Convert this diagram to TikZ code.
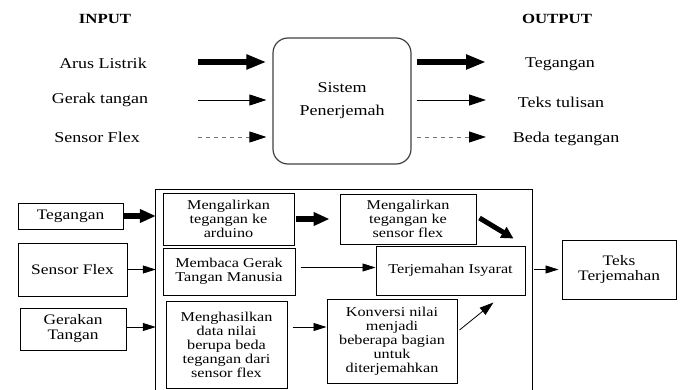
\documentclass[tikz,border=0pt]{standalone}
\usepackage{fontspec}
\setmainfont{Liberation Serif}[FakeStretch=1.2]
\usetikzlibrary{arrows.meta,calc}
\begin{document}
\begin{tikzpicture}[x=1pt,y=-1pt,
	lbl/.style={font=\fontsize{15}{23}\selectfont},
	head/.style={font=\fontsize{14}{16}\selectfont\bfseries},
	sysbox/.style={draw=black!75,line width=1.2pt,rounded corners=15pt,align=center,
		minimum width=138pt,minimum height=126pt,inner sep=0pt,lbl},
	box/.style={draw,line width=1pt,align=center,inner sep=0pt,font=\fontsize{14.5}{15}\selectfont},
	sub/.style={box,font=\fontsize{13.5}{14}\selectfont},
	heavy/.style={line width=6pt,-{Triangle[length=20pt,width=14pt]}},
	plain/.style={line width=0.8pt,-{Triangle[length=17pt,width=11pt]}},
	faint/.style={line width=0.8pt,draw=black!55,dash pattern=on 4pt off 4pt,
		-{Triangle[length=17pt,width=11pt,color=black]}},
	heavyb/.style={line width=6pt,-{Triangle[length=16pt,width=13pt]}},
	thinb/.style={line width=0.8pt,-{Triangle[length=13pt,width=8pt]}}]
	\useasboundingbox (0,0) rectangle (682,390);
	% top half: input -> system -> output
	\node[head] (inp) at (105,19) {INPUT};
	\node[head] (outp) at (557,19) {OUTPUT};
	\node[sysbox] (sys) at (342,101) {Sistem\\Penerjemah};
	\node[lbl] (arus) at (103,63) {Arus Listrik};
	\node[lbl] (gerak) at (100,100) {Gerak tangan};
	\node[lbl] (sensor) at (97,137) {Sensor Flex};
	\node[lbl] (vout) at (560,64) {Tegangan};
	\node[lbl] (txt) at (561,102) {Teks tulisan};
	\node[lbl] (beda) at (566,139) {Beda tegangan};
	% arrow tails / heads that float free of the labels
	\coordinate (i1) at (198,62);
	\coordinate (i2) at (198,100);
	\coordinate (i3) at (198,137);
	\coordinate (o1) at (486,62);
	\coordinate (o2) at (486,100);
	\coordinate (o3) at (486,137);
	\draw[heavy,shorten >=6pt] (i1) -- (sys.west |- i1);
	\draw[plain,shorten >=6pt] (i2) -- (sys.west |- i2);
	\draw[faint,shorten >=6pt] (i3) -- (sys.west |- i3);
	\draw[heavy,shorten <=5pt] (sys.east |- o1) -- (o1);
	\draw[plain,shorten <=5pt] (sys.east |- o2) -- (o2);
	\draw[faint,shorten <=5pt] (sys.east |- o3) -- (o3);
	% bottom half: block diagram
	\node[box,minimum width=105pt,minimum height=26pt] (teg) at (70.5,216) {Tegangan};
	\node[box,minimum width=109pt,minimum height=53pt] (sflex) at (72.5,269.5) {Sensor Flex};
	\node[box,minimum width=106pt,minimum height=42pt] (gtangan) at (73,329) {Gerakan\\Tangan};
	\node[minimum width=376pt,minimum height=200pt,inner sep=0pt] (frame) at (344,290) {};
	\draw[line width=0.8pt] (frame.south west) |- (frame.north east) -- (frame.south east);
	\node[sub,minimum width=131pt,minimum height=52pt] (m1) at (228.5,219) {Mengalirkan\\tegangan ke\\arduino};
	\node[sub,minimum width=136pt,minimum height=50pt] (m2) at (408,219) {Mengalirkan\\tegangan ke\\sensor flex};
	\node[sub,minimum width=132pt,minimum height=47pt] (baca) at (229,271.5) {Membaca Gerak\\Tangan Manusia};
	\node[sub,minimum width=149pt,minimum height=49pt] (isyarat) at (450.5,270.5) {Terjemahan Isyarat};
	\node[sub,minimum width=121pt,minimum height=87pt] (hasil) at (226.5,344.5) {Menghasilkan\\data nilai\\berupa beda\\tegangan dari\\sensor flex};
	\node[sub,minimum width=130pt,minimum height=84pt] (konv) at (392,341) {Konversi nilai\\menjadi\\beberapa bagian\\untuk\\diterjemahkan};
	\node[box,minimum width=114pt,minimum height=59pt] (teks) at (619,269.5) {Teks\\Terjemahan};
	\draw[heavyb] (teg.east) -- (frame.west |- teg.east);
	\draw[thinb] (sflex.east) -- (frame.west |- sflex.east);
	\draw[thinb] ([yshift=2pt]gtangan.east) -- ([yshift=2pt]gtangan.east -| frame.west);
	\draw[heavyb,shorten <=1pt,shorten >=10pt] (m1.east) -- (m2.west |- m1.east);
	\draw[line width=5pt,-{Triangle[length=12pt,width=12pt]}] ($(m2.east)+(3,-1)$) -- ($(isyarat.north east)+(-12,-7)$);
	\draw[thinb,shorten <=5pt] ([yshift=4pt]baca.east) -- ([yshift=4pt]baca.east -| isyarat.west);
	\draw[thinb,shorten <=5pt] ([yshift=17.5pt]hasil.east) -- ([yshift=17.5pt]hasil.east -| konv.west);
	\draw[thinb,-{Triangle[length=14pt,width=9pt]}] ($(konv.east)+(2,-11)$) -- ($(isyarat.south east)+(-32,7)$);
	\draw[thinb,shorten <=2pt,shorten >=3pt] (frame.east |- teks.west) -- (teks.west);
\end{tikzpicture}
\end{document}
